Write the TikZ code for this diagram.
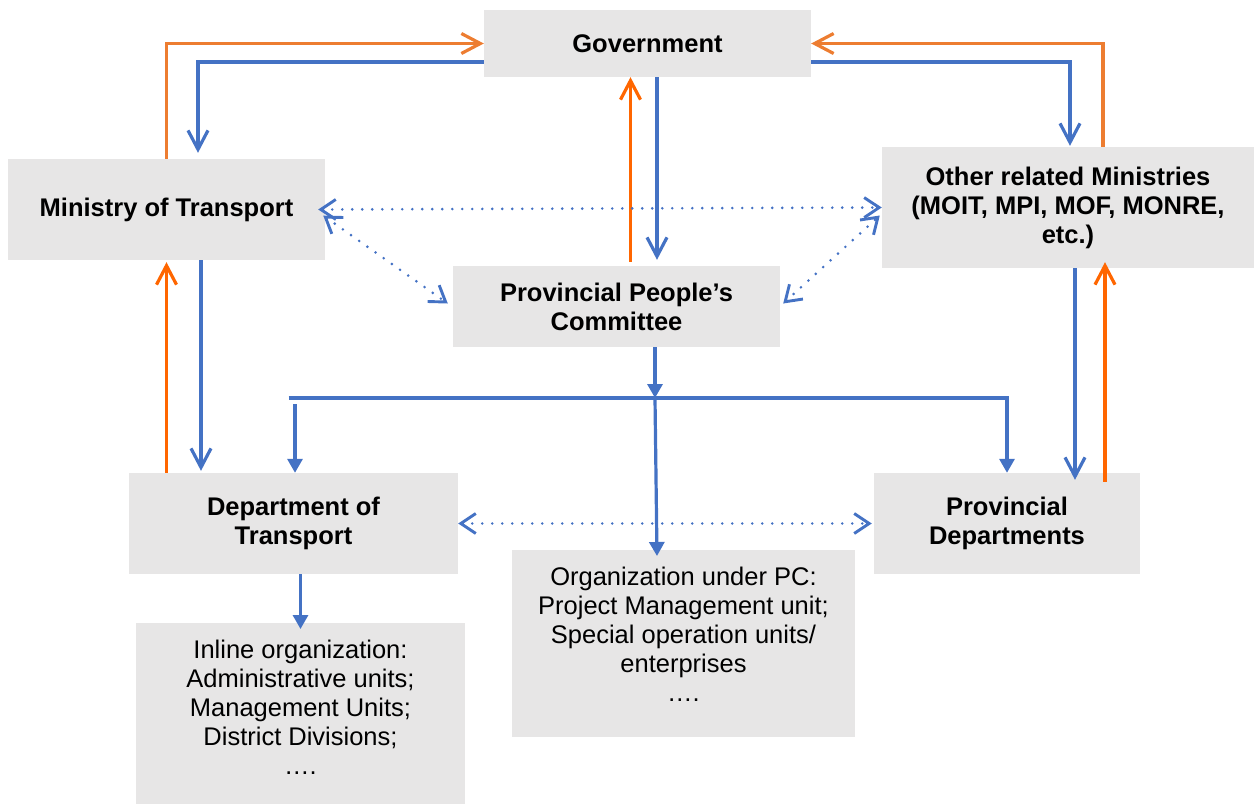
\documentclass[tikz,border=0pt]{standalone}
\usepackage{fontspec}
\setmainfont{Liberation Sans}
\usetikzlibrary{arrows.meta}
\definecolor{boxgray}{HTML}{E7E6E6}
\definecolor{lineblue}{HTML}{4472C4}
\definecolor{lineorange}{HTML}{ED7D31}
\definecolor{brightorange}{HTML}{FF6600}
\newcommand{\tailgap}[1]{\rule[-#1]{0pt}{0pt}}

\begin{document}
\begin{tikzpicture}
	[x=1pt, y=-1pt,
	unit/.style		= {rectangle, fill=boxgray, inner sep=0pt, align=center, font=\fontsize{25.5}{29}\selectfont\bfseries},
	subunit/.style	= {rectangle, fill=boxgray, inner xsep=0pt, inner ysep=17pt, anchor=north, align=center, font=\fontsize{25.5}{29}\selectfont},
	order/.style	= {draw=lineblue, line width=3.2pt, -{Straight Barb[length=19pt, width=20pt]}},
	report/.style	= {draw=lineorange, line width=3.2pt, -{Straight Barb[length=19pt, width=20pt]}},
	branch/.style	= {draw=lineblue, line width=3.2pt, -{Triangle[length=14pt, width=15pt]}},
	coop/.style		= {draw=lineblue, line width=2.9pt, line cap=round, dash pattern=on 0pt off 10pt,
						{Straight Barb[length=15pt, width=20pt]}-{Straight Barb[length=15pt, width=20pt]}}]
	
	\useasboundingbox (0, 0) rectangle (1254, 804);
	
	\node at (647.5, 43.5)	[unit, minimum width=327pt, minimum height=67pt]	(gov)	{Government};
	\node at (166.5, 209.5)	[unit, minimum width=317pt, minimum height=101pt]	(mot)	{Ministry of Transport};
	\node at (1068, 207.5)	[unit, minimum width=372pt, minimum height=121pt]	(other)	{Other related Ministries\\(MOIT, MPI, MOF, MONRE,\\etc.)};
	\node at (616.5, 306.5)	[unit, minimum width=327pt, minimum height=81pt]	(ppc)	{Provincial People’s\\Committee};
	\node at (293.5, 523.5)	[unit, minimum width=329pt, minimum height=101pt]	(dot)	{Department of\\Transport};
	\node at (1007, 523.5)	[unit, minimum width=266pt, minimum height=101pt]	(pd)	{Provincial\\Departments};
	
	\node at (683.5, 550)	[subunit, minimum width=343pt]	(org)		{Organization under PC:\\Project Management unit;\\Special operation units/\\enterprises\\….\tailgap{18.5pt}};
	\node at (300.5, 623)	[subunit, minimum width=329pt]	(inline)	{Inline organization:\\Administrative units;\\Management Units;\\District Divisions;\\….\tailgap{12.5pt}};
	
	\coordinate (bus) at (655, 398);
	
	% government and ministries
	\draw [report] (mot.north) |- (gov.west);
	\draw [order, shorten >=6pt] ([yshift=-18.5pt]gov.west) -| ([xshift=31.5pt]mot.north);
	\draw [report] ([xshift=35pt]other.north) |- (gov.east);
	\draw [order, shorten >=1pt] ([yshift=-18.5pt]gov.east) -| ([xshift=2pt]other.north);
	\draw [report, draw=brightorange] ([xshift=14pt, yshift=4pt]ppc.north) -- ([xshift=14pt]ppc.north |- gov.south);
	\draw [order, shorten >=6pt] ([xshift=9.5pt]gov.south) -- ([xshift=9.5pt]gov.south |- ppc.north);
	
	% coordination
	\draw [coop, shorten <=-7pt] (mot.east) -- (other.west);
	\draw [coop] ([xshift=-2pt, yshift=-6pt]mot.east) -- ([xshift=-5pt, yshift=3pt]ppc.west);
	\draw [coop] ([xshift=3pt, yshift=3pt]ppc.east) -- ([xshift=-2pt, yshift=-8pt]other.west);
	\draw [coop] (dot.east) -- ([xshift=-2pt]pd.west);
	
	% ministries and provincial level
	\draw [report, draw=brightorange, shorten >=2pt] (mot.south |- dot.north) -- (mot.south);
	\draw [order, shorten >=2pt] ([xshift=34.5pt]mot.south) -- ([xshift=34.5pt]mot.south |- dot.north);
	\draw [order, shorten >=-7pt] ([xshift=7pt]other.south) -- ([xshift=7pt]other.south |- pd.north);
	\draw [report, draw=brightorange, shorten <=-9pt, shorten >=-6pt] ([xshift=37pt]other.south |- pd.north) -- ([xshift=37pt]other.south);
	
	% provincial committee
	\draw [branch] ([xshift=38.5pt]ppc.south) -- (bus);
	\draw [branch] ([xshift=-5pt]dot.north |- bus) -- (pd.north |- bus) -- (pd.north);
	\draw [branch, shorten <=6pt] ([xshift=1.5pt]dot.north |- bus) -- ([xshift=1.5pt]dot.north);
	\draw [branch] (bus) -- ([xshift=-26.5pt, yshift=-6pt]org.north);
	\draw [branch] (inline.north |- dot.south) -- ([yshift=-6pt]inline.north);
	
\end{tikzpicture}
\end{document}
